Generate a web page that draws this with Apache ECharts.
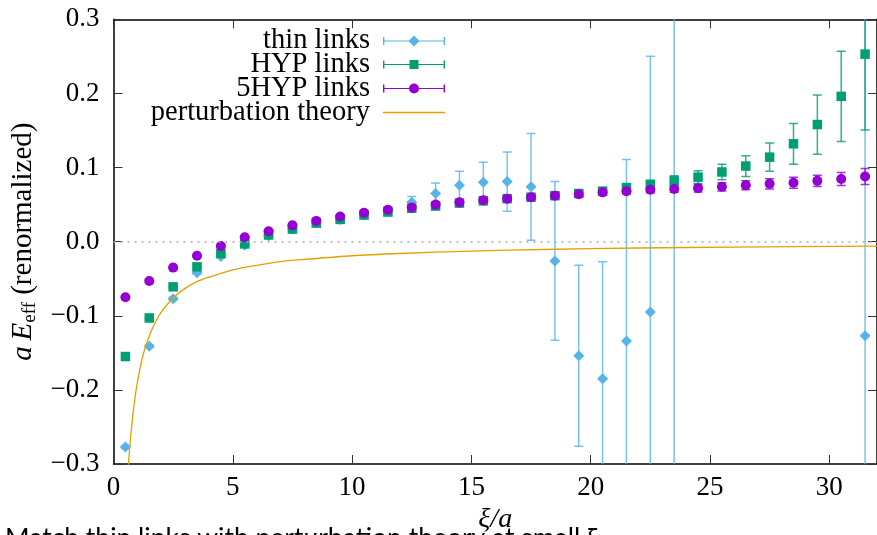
<!DOCTYPE html>
<html>
<head>
<meta charset="utf-8">
<title>aE_eff renormalized</title>
<script src="https://cdn.jsdelivr.net/npm/echarts@6/dist/echarts.min.js"></script>
<style>
  html, body { margin: 0; padding: 0; background: #fff; }
  #chart { width: 877px; height: 535px; }
</style>
</head>
<body>
<div id="chart"></div>
<script>
// xi/a values shared by all three data sets
const xi = [0.5, 1.5, 2.5, 3.5, 4.5, 5.5, 6.5, 7.5, 8.5, 9.5, 10.5, 11.5, 12.5, 13.5, 14.5, 15.5,
  16.5, 17.5, 18.5, 19.5, 20.5, 21.5, 22.5, 23.5, 24.5, 25.5, 26.5, 27.5, 28.5, 29.5, 30.5, 31.5]

const thinVal = [-0.277, -0.141, -0.077, -0.042, -0.020, -0.005, 0.008, 0.017, 0.025, 0.030, 0.036, 0.041,
  0.053, 0.065, 0.076, 0.080, 0.081, 0.074, -0.026, -0.154, -0.185, -0.134, -0.095, -0.36,
  null, null, null, null, null, null, null, -0.127]
const thinErr = [0.002, 0.002, 0.002, 0.002, 0.002, 0.003, 0.003, 0.003, 0.004, 0.004, 0.005, 0.006,
  0.008, 0.014, 0.019, 0.027, 0.040, 0.072, 0.107, 0.122, 0.158, 0.245, 0.345, 0.70,
  null, null, null, null, null, null, null, 0.45]

const hypVal = [-0.155, -0.103, -0.061, -0.034, -0.016, -0.003, 0.009, 0.017, 0.025, 0.030, 0.036, 0.040,
  0.045, 0.048, 0.052, 0.055, 0.058, 0.060, 0.062, 0.065, 0.068, 0.073, 0.077, 0.082,
  0.087, 0.094, 0.102, 0.114, 0.132, 0.158, 0.196, 0.253]
const hypErr = [0.001, 0.001, 0.001, 0.001, 0.001, 0.001, 0.001, 0.001, 0.001, 0.001, 0.001, 0.0015,
  0.002, 0.002, 0.0025, 0.003, 0.003, 0.0035, 0.004, 0.004, 0.005, 0.005, 0.006, 0.007,
  0.0085, 0.0105, 0.014, 0.019, 0.0275, 0.040, 0.061, 0.1025]

const hyp5Val = [-0.075, -0.053, -0.035, -0.019, -0.006, 0.006, 0.014, 0.022, 0.028, 0.034, 0.039, 0.043,
  0.046, 0.050, 0.053, 0.056, 0.058, 0.060, 0.062, 0.064, 0.0665, 0.068, 0.070, 0.071,
  0.072, 0.074, 0.076, 0.078, 0.0795, 0.082, 0.0845, 0.088]
const hyp5Err = [0.001, 0.001, 0.001, 0.001, 0.001, 0.001, 0.001, 0.001, 0.001, 0.001, 0.0015, 0.0015,
  0.0015, 0.002, 0.002, 0.002, 0.0025, 0.0025, 0.003, 0.003, 0.003, 0.0035, 0.004, 0.0045,
  0.005, 0.0055, 0.006, 0.007, 0.0074, 0.0077, 0.0088, 0.0108]

// perturbation theory curve
const ptX = [0.55, 0.63, 0.7, 0.8, 0.9, 1.0, 1.2, 1.4, 1.7, 2.0, 2.5, 3.0, 3.5, 4.0, 5.0, 6.0, 7.0, 8.0,
  10, 12, 15, 18, 22, 26, 32]
const ptY = [-0.345, -0.30, -0.27, -0.237, -0.211, -0.19, -0.158, -0.136, -0.112, -0.095, -0.076, -0.063,
  -0.054, -0.048, -0.038, -0.032, -0.027, -0.024, -0.019, -0.016, -0.0127, -0.0106, -0.0086, -0.0073, -0.006]

const xTicks = { min: 0, max: 32, interval: 5 }
const yTicks = { min: -0.3, max: 0.3, interval: 0.1 }

const names = ['thin links', 'HYP links', '5HYP links', 'perturbation theory']
const colors = ['#56B4E9', '#009E73', '#9400D3', '#E69F00']

const serif = 'Liberation Serif'

function points (vals) {
  return xi.map((x, i) => [x, vals[i]]).filter(p => p[1] !== null)
}
function bars (vals, errs) {
  return xi.map((x, i) => vals[i] === null ? null : [x, vals[i] - errs[i], vals[i] + errs[i]]).filter(p => p)
}

function errRender (color) {
  return function (params, api) {
    const x = api.value(0)
    const lo = api.coord([x, api.value(1)])
    const hi = api.coord([x, api.value(2)])
    const w = 4.5
    const style = { stroke: color, lineWidth: 1.5, opacity: 0.8 }
    return {
      type: 'group',
      children: [
        { type: 'line', shape: { x1: lo[0], y1: lo[1], x2: hi[0], y2: hi[1] }, style: style },
        { type: 'line', shape: { x1: lo[0] - w, y1: lo[1], x2: lo[0] + w, y2: lo[1] }, style: style },
        { type: 'line', shape: { x1: hi[0] - w, y1: hi[1], x2: hi[0] + w, y2: hi[1] }, style: style }
      ]
    }
  }
}

// gnuplot-like key samples: line + end caps + point
const icons = [
  'path://M0 49H620V61H0Z M0 14H14V96H0Z M606 14H620V96H606Z M310 0L365 55L310 110L255 55Z',
  'path://M0 39H620V51H0Z M0 4H14V86H0Z M606 4H620V86H606Z M265 0H355V90H265Z',
  'path://M0 44H620V56H0Z M0 9H14V91H0Z M606 9H620V91H606Z M260 50A50 50 0 1 1 360 50A50 50 0 1 1 260 50Z',
  'path://M0 0H620V14H0Z'
]
const iconHeights = [11, 9, 10, 1.4]
const keyCenters = [38.5, 62, 86, 110]

const legends = names.map((n, i) => ({
  data: [{ name: n, icon: icons[i] }],
  right: 432,
  top: keyCenters[i] - 12,
  padding: 0,
  align: 'right',
  selectedMode: false,
  itemWidth: 62,
  itemHeight: iconHeights[i],
  textStyle: { fontFamily: serif, fontSize: 28.5, lineHeight: 24, color: '#000', padding: [0, 8, 0, 0] }
}))

const frame = { show: true, onZero: false, lineStyle: { color: '#000', width: 1.5 } }
const inTick = { show: true, inside: true, length: 9, lineStyle: { color: '#333' } }

const chart = echarts.init(document.getElementById('chart'))
chart.setOption({
  animation: false,
  backgroundColor: '#fff',
  grid: { left: 113.5, right: 0, top: 19.3, bottom: 71, outerBoundsMode: 'none' },
  legend: legends,
  xAxis: [{
    type: 'value',
    position: 'bottom',
    min: xTicks.min,
    max: xTicks.max,
    interval: xTicks.interval,
    name: 'ξ/a',
    nameLocation: 'middle',
    nameGap: 37,
    nameTextStyle: { fontFamily: serif, fontSize: 28, fontStyle: 'italic', color: '#000' },
    axisLine: frame,
    axisTick: inTick,
    axisLabel: { fontFamily: serif, fontSize: 27, color: '#000', margin: 10, showMaxLabel: false },
    splitLine: { show: false }
  }, {
    type: 'value',
    position: 'top',
    min: xTicks.min,
    max: xTicks.max,
    interval: xTicks.interval,
    axisLine: frame,
    axisTick: inTick,
    axisLabel: { show: false },
    splitLine: { show: false }
  }],
  yAxis: [{
    type: 'value',
    position: 'left',
    min: yTicks.min,
    max: yTicks.max,
    interval: yTicks.interval,
    name: '{it|a\u2009E}{sub|eff}{rm| (renormalized)}',
    nameLocation: 'middle',
    nameRotate: 90,
    nameGap: 51,
    nameTextStyle: {
      color: '#000',
      fontFamily: serif,
      fontSize: 29,
      rich: {
        it: { fontFamily: serif, fontSize: 29, fontStyle: 'italic', lineHeight: 32, color: '#000' },
        sub: { fontFamily: serif, fontSize: 19, lineHeight: 19, verticalAlign: 'bottom', color: '#000' },
        rm: { fontFamily: serif, fontSize: 29, lineHeight: 32, color: '#000' }
      }
    },
    axisLine: frame,
    axisTick: inTick,
    axisLabel: {
      fontFamily: serif,
      fontSize: 27,
      color: '#000',
      margin: 14,
      formatter: v => Math.abs(v) < 1e-9 ? '0.0' : (v < 0 ? '\u2212' : '') + Math.abs(v).toFixed(1)
    },
    splitLine: { show: false }
  }, {
    type: 'value',
    position: 'right',
    min: yTicks.min,
    max: yTicks.max,
    interval: yTicks.interval,
    axisLine: frame,
    axisTick: inTick,
    axisLabel: { show: false },
    splitLine: { show: false }
  }],
  graphic: [{
    type: 'text',
    left: 5,
    top: 525,
    style: { text: 'Match thin links with perturbation theory at small ξ', fontFamily: 'Lato', fontSize: 26.5, fill: '#000' }
  }],
  series: [{
    name: 'thin err',
    type: 'custom',
    clip: true,
    renderItem: errRender(colors[0]),
    encode: { x: 0, y: [1, 2] },
    data: bars(thinVal, thinErr),
    silent: true
  }, {
    name: names[0],
    type: 'scatter',
    symbol: 'diamond',
    symbolSize: 11,
    itemStyle: { color: colors[0], opacity: 1 },
    data: points(thinVal),
    markLine: {
      silent: true,
      symbol: 'none',
      label: { show: false },
      lineStyle: { color: '#aaa', type: [2, 5], width: 1.5 },
      data: [{ yAxis: 0 }]
    }
  }, {
    name: 'HYP err',
    type: 'custom',
    clip: true,
    renderItem: errRender(colors[1]),
    encode: { x: 0, y: [1, 2] },
    data: bars(hypVal, hypErr),
    silent: true
  }, {
    name: names[1],
    type: 'scatter',
    symbol: 'rect',
    symbolSize: 9.5,
    itemStyle: { color: colors[1], opacity: 1 },
    data: points(hypVal)
  }, {
    name: '5HYP err',
    type: 'custom',
    clip: true,
    renderItem: errRender(colors[2]),
    encode: { x: 0, y: [1, 2] },
    data: bars(hyp5Val, hyp5Err),
    silent: true
  }, {
    name: names[2],
    type: 'scatter',
    symbol: 'circle',
    symbolSize: 10,
    itemStyle: { color: colors[2], opacity: 1 },
    data: points(hyp5Val)
  }, {
    name: names[3],
    type: 'line',
    smooth: 0.3,
    showSymbol: false,
    clip: true,
    itemStyle: { color: colors[3] },
    lineStyle: { color: colors[3], width: 1.3 },
    data: ptX.map((x, i) => [x, ptY[i]])
  }]
})
</script>
</body>
</html>
